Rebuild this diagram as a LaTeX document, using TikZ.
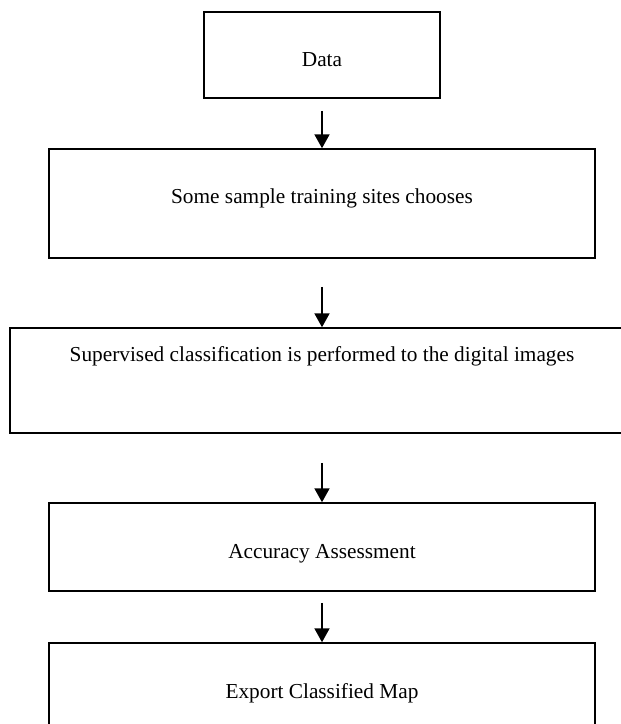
\documentclass[tikz,border=0pt]{standalone}
\usepackage{fontspec}
\setmainfont{Liberation Serif}
\usepackage{tikz}
\usetikzlibrary{arrows.meta}

\begin{document}
\begin{tikzpicture}[x=1pt,y=-1pt,
		box/.style = {draw, line width=1.5pt, rectangle, inner xsep=0pt, inner ysep=0pt, font=\fontsize{21.3}{25}\selectfont},
		flow/.style = {line width=2pt, -{Triangle[length=14pt,width=15pt]}}]
				\clip (0,0) rectangle (621,724);
				\begin{scope}[every node/.style={box}]
					\node[minimum width=236pt, text height=54pt, text depth=32pt] (data) at (322,55) {Data};
					\node[minimum width=546pt, text height=54pt, text depth=55pt] (sites) at (322,203.5) {Some sample training sites chooses};
					\node[minimum width=624pt, text height=33pt, text depth=72pt] (classify) at (322,380.5) {Supervised classification is performed to the digital images};
					\node[minimum width=546pt, text height=55pt, text depth=33pt] (accuracy) at (322,547) {Accuracy Assessment};
					\node[minimum width=546pt, text height=55pt, text depth=45pt] (export) at (322,693) {Export Classified Map};
				\end{scope}
				\draw [flow, shorten <=12pt] (data) -- (sites);
				\draw [flow, shorten <=28pt] (sites) -- (classify);
				\draw [flow, shorten <=29pt] (classify) -- (accuracy);
				\draw [flow, shorten <=11pt] (accuracy) -- (export);
			\end{tikzpicture}
\end{document}
